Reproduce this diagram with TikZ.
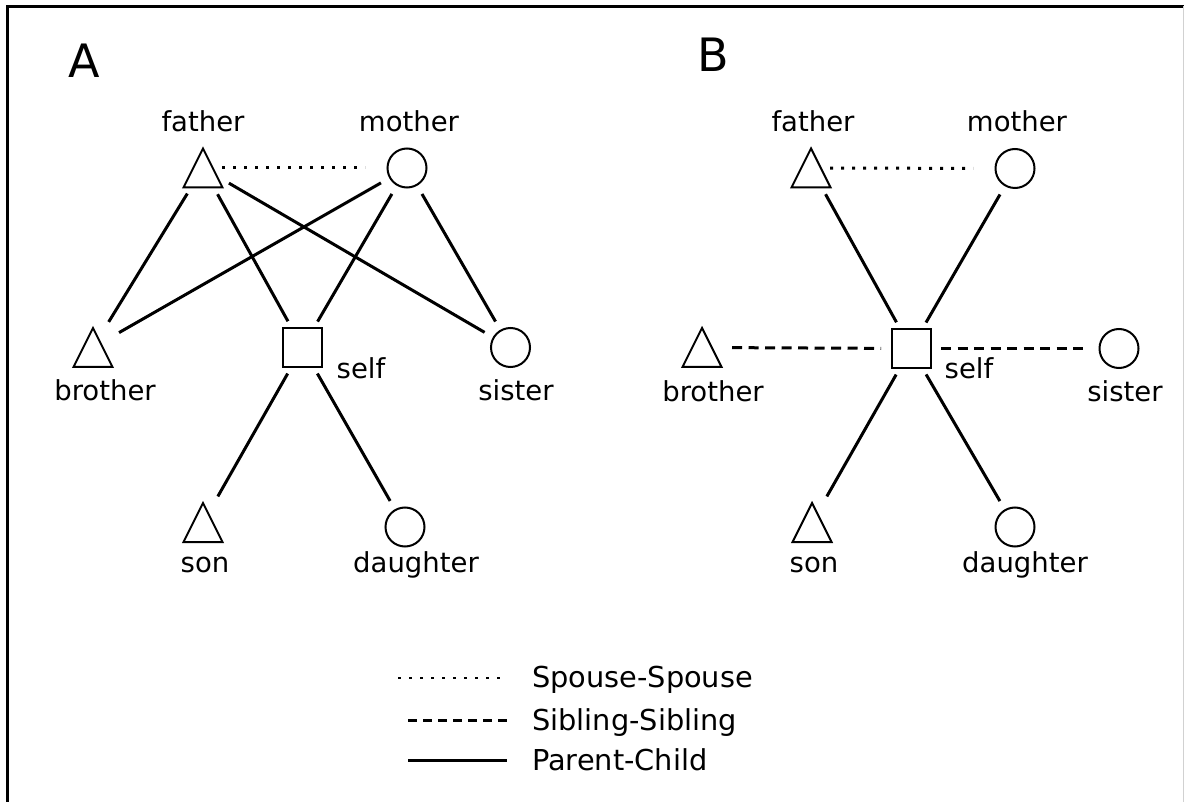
\documentclass[tikz,border=0pt]{standalone}
\usepackage{fontspec}
\setmainfont{DejaVu Sans}
\usetikzlibrary{calc}
\begin{document}
\begin{tikzpicture}[x=1pt,y=-1pt,
  person/.style={circle, draw=none, minimum size=60pt, inner sep=0pt, outer sep=0pt},
  male/.style={person, path picture={\draw[line width=2pt]
      ([shift={(-19.5pt,-19.5pt)}]path picture bounding box.center) -- ++(39pt,0pt) -- ++(-19.5pt,39pt) -- cycle;}},
  female/.style={person, path picture={\draw[line width=2pt]
      (path picture bounding box.center) circle[radius=19.5pt];}},
  ego/.style={person, path picture={\draw[line width=2pt]
      ([shift={(-19.5pt,-19.5pt)}]path picture bounding box.center) rectangle ++(39pt,39pt);}},
  lbl/.style={anchor=base, inner sep=0pt, font=\fontsize{27.5}{31}\selectfont},
  panel/.style={anchor=base west, inner sep=0pt, font=\fontsize{46}{50}\selectfont},
  legtxt/.style={anchor=base west, inner sep=0pt, font=\fontsize{28.8}{32}\selectfont},
  parentline/.style={line width=3pt},
  sibline/.style={line width=3pt, dash pattern=on 10pt off 6.5pt},
  spouseline/.style={line width=3pt, dash pattern=on 3pt off 8pt, shorten <=-11pt, shorten >=12pt},
]
\useasboundingbox (0,0) rectangle (1184,802);
% frame
\draw[line width=3pt] (7.5,802) -- (7.5,6.5) -- (1184,6.5);
\draw[line width=1pt, black!18] (1183.5,6.5) -- (1183.5,802);

% ---------------- Panel A ----------------
\node[panel] (pA) at (68,78) {A};
\node[male]   (aFa) at (203,168) {};
\node[female] (aMo) at (407,168) {};
\node[male]   (aBr) at (93,347.5) {};
\node[ego]    (aSe) at (302.5,347.5) {};
\node[female] (aSi) at (510.5,347.5) {};
\node[male]   (aSo) at (203,522.5) {};
\node[female] (aDa) at (405,527) {};

\node[lbl] (laFa) at (203,132) {father};
\node[lbl] (laMo) at (409,132) {mother};
\node[lbl] (laBr) at (105,401) {brother};
\node[lbl] (laSe) at (361,378) {self};
\node[lbl] (laSi) at (516,401) {sister};
\node[lbl] (laSo) at (205,572) {son};
\node[lbl] (laDa) at (416,572) {daughter};

\draw[spouseline] (aFa) -- (aMo);
\draw[parentline] (aFa) -- (aBr);
\draw[parentline] (aFa) -- (aSe);
\draw[parentline] (aFa) -- (aSi);
\draw[parentline] (aMo) -- (aBr);
\draw[parentline] (aMo) -- (aSe);
\draw[parentline] (aMo) -- (aSi);
\draw[parentline] (aSe) -- (aSo);
\draw[parentline] (aSe) -- (aDa);

% ---------------- Panel B ----------------
\node[panel] (pB) at (697,72) {B};
\node[male]   (bFa) at (811,168) {};
\node[female] (bMo) at (1015,168.5) {};
\node[male]   (bBr) at (702,347.5) {};
\node[ego]    (bSe) at (911,348.5) {};
\node[female] (bSi) at (1119,348.5) {};
\node[male]   (bSo) at (812,522.5) {};
\node[female] (bDa) at (1015,527) {};

\node[lbl] (lbFa) at (813,132) {father};
\node[lbl] (lbMo) at (1017,132) {mother};
\node[lbl] (lbBr) at (713,402) {brother};
\node[lbl] (lbSe) at (969,378) {self};
\node[lbl] (lbSi) at (1125,402) {sister};
\node[lbl] (lbSo) at (814,572) {son};
\node[lbl] (lbDa) at (1025,572) {daughter};

\draw[spouseline] (bFa) -- (bMo);
\draw[parentline] (bFa) -- (bSe);
\draw[parentline] (bMo) -- (bSe);
\draw[parentline] (bSe) -- (bSo);
\draw[parentline] (bSe) -- (bDa);
\draw[sibline] (bBr) -- (bSe);
\draw[sibline] (bSe) -- (bSi);

% ---------------- Legend ----------------
\coordinate (k1a) at (398,678);
\coordinate (k1b) at (507,678);
\coordinate (k2a) at (408,720);
\coordinate (k2b) at (507,720);
\coordinate (k3a) at (408,760);
\coordinate (k3b) at (507,760);
\draw[line width=2.5pt, dash pattern=on 2.5pt off 8.5pt] (k1a) -- (k1b);
\draw[line width=3pt, dash pattern=on 9pt off 6pt] (k2a) -- (k2b);
\draw[parentline] (k3a) -- (k3b);
\node[legtxt] (t1) at (532,687) {Spouse-Spouse};
\node[legtxt] (t2) at (532,730) {Sibling-Sibling};
\node[legtxt] (t3) at (532,770) {Parent-Child};
\end{tikzpicture}
\end{document}
